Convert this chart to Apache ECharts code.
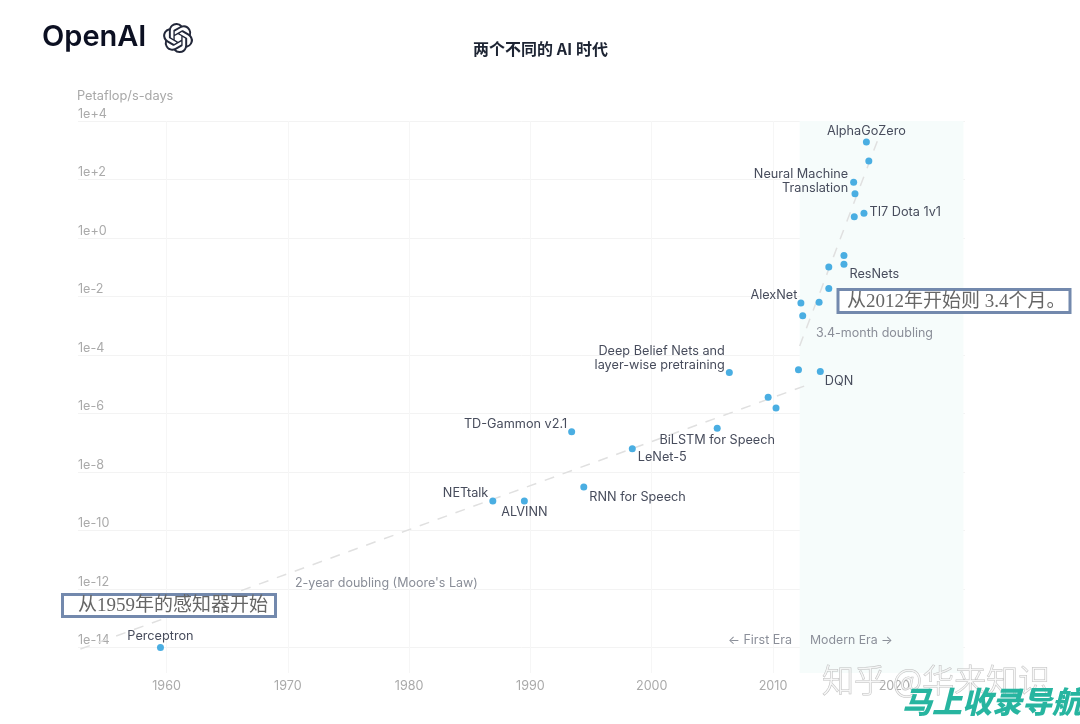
<!DOCTYPE html>
<html><head><meta charset="utf-8">
<style>html,body{margin:0;padding:0;background:#fff}#c{width:1080px;height:724px}</style>
<script src="https://cdn.jsdelivr.net/npm/echarts@6/dist/echarts.min.js"></script>
</head><body><div id="c"></div>
<script>
const names = ['Perceptron','NETtalk','ALVINN','TD-Gammon v2.1','RNN for Speech','LeNet-5','BiLSTM for Speech','Deep Belief Nets and\nlayer-wise pretraining','','','','DQN','','AlexNet','','','','','ResNets','','TI7 Dota 1v1','','Neural Machine\nTranslation','','AlphaGoZero'];
const years = [1959.5,1986.9,1989.5,1993.4,1994.4,1998.4,2005.4,2006.4,2009.6,2010.25,2012.1,2013.9,2012.45,2012.3,2013.8,2014.6,2014.6,2015.85,2015.85,2016.7,2017.5,2016.76,2016.65,2017.9,2017.7];
const exponents = [-14,-8.99,-8.99,-6.62,-8.51,-7.2,-6.5,-4.6,-5.44,-5.81,-4.5,-4.56,-2.66,-2.22,-2.2,-1.73,-0.99,-0.6,-0.9,0.73,0.85,1.51,1.91,2.63,3.28];
const mooreTrend = [[1952.9,-14.05],[2012.6,-5.06]];
const modernTrend = [[2012.2,-3.69],[2019,3.75]];
const xTicks = [1960,1970,1980,1990,2000,2010,2020];
const yTicks = [-14,-12,-10,-8,-6,-4,-2,0,2,4];
const modernEra = [2012.2,2025.7];

const labelStyle = {
  'Perceptron':{position:'top',distance:2,offset:[0,1]},
  'NETtalk':{position:'left',distance:1,offset:[0,-8]},
  'ALVINN':{position:'bottom',distance:1},
  'TD-Gammon v2.1':{position:'left',distance:1,offset:[0,-7]},
  'RNN for Speech':{position:'right',distance:2,offset:[0,10]},
  'LeNet-5':{position:'right',distance:2,offset:[0,9]},
  'BiLSTM for Speech':{position:'bottom',distance:2},
  'Deep Belief Nets and\nlayer-wise pretraining':{position:'left',distance:1,offset:[0,-14]},
  'DQN':{position:'right',distance:1,offset:[0,10]},
  'AlexNet':{position:'left',distance:0,offset:[0,-8]},
  'ResNets':{position:'right',distance:2,offset:[0,10]},
  'TI7 Dota 1v1':{position:'right',distance:2,offset:[0,-1]},
  'Neural Machine\nTranslation':{position:'left',distance:2,offset:[0,-1]},
  'AlphaGoZero':{position:'top',distance:0}
};
const uiFont = 'Inter, "Noto Sans", sans-serif';
const serifFont = '"Liberation Serif", "Noto Sans CJK SC", serif';
const logoPath = 'M22.2819 9.8211a5.9847 5.9847 0 0 0-.5157-4.9108 6.0462 6.0462 0 0 0-6.5098-2.9A6.0651 6.0651 0 0 0 4.9807 4.1818a5.9847 5.9847 0 0 0-3.9977 2.9 6.0462 6.0462 0 0 0 .7427 7.0966 5.98 5.98 0 0 0 .511 4.9107 6.051 6.051 0 0 0 6.5146 2.9001A5.9847 5.9847 0 0 0 13.2599 24a6.0557 6.0557 0 0 0 5.7718-4.2058 5.9894 5.9894 0 0 0 3.9977-2.9001 6.0557 6.0557 0 0 0-.7475-7.0729zm-9.022 12.6081a4.4755 4.4755 0 0 1-2.8764-1.0408l.1419-.0804 4.7783-2.7582a.7948.7948 0 0 0 .3927-.6813v-6.7369l2.02 1.1686a.071.071 0 0 1 .038.052v5.5826a4.504 4.504 0 0 1-4.4945 4.4944zm-9.6607-4.1254a4.4708 4.4708 0 0 1-.5346-3.0137l.142.0852 4.783 2.7582a.7712.7712 0 0 0 .7806 0l5.8428-3.3685v2.3324a.0804.0804 0 0 1-.0332.0615L9.74 19.9502a4.4992 4.4992 0 0 1-6.1408-1.6464zM2.3408 7.8956a4.485 4.485 0 0 1 2.3655-1.9728V11.6a.7664.7664 0 0 0 .3879.6765l5.8144 3.3543-2.0201 1.1685a.0757.0757 0 0 1-.071 0l-4.8303-2.7865A4.504 4.504 0 0 1 2.3408 7.872zm16.5963 3.8558L13.1038 8.364 15.1192 7.2a.0757.0757 0 0 1 .071 0l4.8303 2.7913a4.4944 4.4944 0 0 1-.6765 8.1042v-5.6772a.79.79 0 0 0-.407-.667zm2.0107-3.0231l-.142-.0852-4.7735-2.7818a.7759.7759 0 0 0-.7854 0L9.409 9.2297V6.8974a.0662.0662 0 0 1 .0284-.0615l4.8303-2.7866a4.4992 4.4992 0 0 1 6.6802 4.66zM8.3065 12.863l-2.02-1.1638a.0804.0804 0 0 1-.038-.0567V6.0742a4.4992 4.4992 0 0 1 7.3757-3.4537l-.142.0805L8.704 5.459a.7948.7948 0 0 0-.3927.6813zm1.0976-2.3654l2.602-1.4998 2.6069 1.4998v2.9994l-2.5974 1.4997-2.6067-1.4997Z';

const chart = echarts.init(document.getElementById('c'));
const txt = (x,y,text,o={}) => ({type:'text',x,y,z:20,style:Object.assign({text,fontFamily:uiFont,fontSize:12.5,fill:'#8b8f99',verticalAlign:'middle'},o)});
const trend = data => ({type:'line',data,symbol:'none',silent:true,z:2,lineStyle:{color:'#e0e0e0',width:1.5,type:[10,9]}});

chart.setOption({
  animation:false,
  backgroundColor:'#fff',
  title:{text:'两个不同的 AI 时代',left:535.5,top:36,textAlign:'center',textStyle:{fontFamily:'"Noto Sans CJK SC"',fontSize:16,fontWeight:'bold',color:'#1d2433'}},
  grid:{left:78,right:115,top:121,bottom:51},
  xAxis:{type:'value',min:1952.7,max:2025.83,
    axisLine:{show:false},
    axisTick:{show:false,customValues:xTicks},
    axisLabel:{customValues:xTicks,color:'#aaaaaa',fontFamily:uiFont,fontSize:12.6,margin:7,formatter:v=>String(v)},
    splitLine:{show:true,lineStyle:{color:'#f6f6f6',width:1}}},
  yAxis:{type:'value',min:-14.87,max:4,
    name:'Petaflop/s-days',nameLocation:'end',nameGap:18,
    nameTextStyle:{align:'left',color:'#a8a8a8',fontFamily:uiFont,fontSize:12.8,padding:[0,0,0,-1]},
    axisLine:{show:false},
    axisTick:{show:false,customValues:yTicks},
    axisLabel:{customValues:yTicks,inside:true,margin:0,verticalAlign:'bottom',align:'left',color:'#aaaaaa',fontFamily:uiFont,fontSize:12.6,lineHeight:14,
      formatter:v=>'1e'+(v>=0?'+':'-')+Math.abs(v)},
    splitLine:{show:true,lineStyle:{color:'#f3f3f3',width:1}}},
  series:[
    trend(mooreTrend),
    trend(modernTrend),
    {type:'scatter',symbol:'circle',symbolSize:7,z:5,
      itemStyle:{color:'#4aaee2',opacity:1},
      data:years.map((y,i)=>{
        const n=names[i], s=labelStyle[n];
        return {value:[y,exponents[i]],
          label:s?Object.assign({show:true,formatter:n,color:'#474c5c',fontFamily:uiFont,fontSize:12.7,lineHeight:14,align:s.position==='left'?'right':undefined},s):{show:false}};
      }),
      markArea:{silent:true,z:0,itemStyle:{color:'#f6fcfb'},label:{show:false},
        data:[[{xAxis:modernEra[0],yAxis:-14.87},{xAxis:modernEra[1],yAxis:4}]]}
    },
    {type:'custom',coordinateSystem:'none',silent:true,z:20,data:[0],
      renderItem:()=>({type:'path',shape:{pathData:logoPath,layout:'center',x:163,y:23,width:30,height:30},style:{fill:'#23283a'}})}
  ],
  graphic:[
    {type:'text',x:42,y:37,z:20,style:{text:'OpenAI',fontFamily:'Inter, "DejaVu Sans"',fontSize:29,fontWeight:600,fill:'#0c1022',verticalAlign:'middle'}},
    txt(816,333,'3.4-month doubling',{fill:'#8a8e98'}),
    txt(295,583,"2-year doubling (Moore's Law)",{fill:'#8a8e98'}),
    txt(728,640,'← First Era'),
    txt(810,640,'Modern Era →',{fontSize:12.3}),
    {type:'rect',z:30,shape:{x:838,y:289.5,width:232,height:23},style:{fill:'#fff',stroke:'#7389ad',lineWidth:3}},
    {type:'text',x:847,y:302,z:31,style:{text:'从2012年开始则 3.4个月。',fontFamily:serifFont,fontSize:19,fill:'#666666',verticalAlign:'middle'}},
    {type:'rect',z:30,shape:{x:62.5,y:594.5,width:213,height:22},style:{fill:'#fff',stroke:'#7389ad',lineWidth:3}},
    {type:'text',x:78,y:606,z:31,style:{text:'从1959年的感知器开始',fontFamily:serifFont,fontSize:19,fill:'#666666',verticalAlign:'middle'}},
    {type:'text',x:822,y:680,z:32,style:{text:'知乎 @华来知识',fontFamily:'"Noto Sans CJK SC"',fontSize:32,fontWeight:300,fill:'rgba(255,255,255,0.7)',stroke:'rgba(165,165,165,0.7)',lineWidth:1,verticalAlign:'middle'}},
    {type:'text',x:902,y:702,z:33,style:{text:'马上收录导航',fontFamily:'"Noto Sans CJK SC"',fontSize:30,fontWeight:900,fontStyle:'italic',fill:'#27b5a0',verticalAlign:'middle'}}
  ]
});
</script></body></html>
